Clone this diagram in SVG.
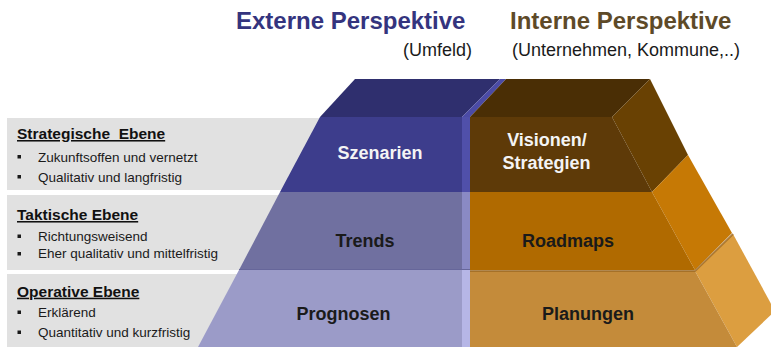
<svg xmlns="http://www.w3.org/2000/svg" width="771" height="347" viewBox="0 0 771 347">
  <style>
    .panel { fill: #e1e1e1; }
    .head { font-family: "Liberation Sans", Arial, sans-serif; font-weight: bold; font-size: 15.5px; fill: #111111; text-decoration: underline; }
    .item { font-family: "Liberation Sans", Arial, sans-serif; font-size: 13.5px; fill: #1a1a1a; }
    .bullet { fill: #1a1a1a; }
    .lbl { font-family: "Liberation Sans", Arial, sans-serif; font-weight: bold; font-size: 18px; text-anchor: middle; }
    .dark { fill: #1a1a1a; }
    .light { fill: #f4f4f4; }
    .title { font-family: "Liberation Sans", Arial, sans-serif; font-weight: bold; font-size: 24px; }
    .sub { font-family: "Liberation Sans", Arial, sans-serif; font-size: 18px; fill: #1a1a1a; }
  </style>
  <rect width="771" height="347" fill="#ffffff"/>

  <!-- headings -->
  <g id="title-extern">
    <text class="title" x="236" y="29" fill="#34347e">Externe Perspektive</text>
    <text class="sub" x="472" y="56" text-anchor="end">(Umfeld)</text>
  </g>
  <g id="title-intern">
    <text class="title" x="510" y="29" fill="#5e4a28">Interne Perspektive</text>
    <text class="sub" x="512" y="56">(Unternehmen, Kommune,..)</text>
  </g>

  <!-- level descriptions on the left -->
  <g id="level-strategic">
    <rect class="panel" x="7" y="118" width="470" height="72"/>
    <text class="head" x="17" y="139" xml:space="preserve">Strategische  Ebene</text>
    <rect class="bullet" x="17.5" y="155" width="3.5" height="3.5"/>
    <text class="item" x="38" y="161.5">Zukunftsoffen und vernetzt</text>
    <rect class="bullet" x="17.5" y="175" width="3.5" height="3.5"/>
    <text class="item" x="38" y="181.5">Qualitativ und langfristig</text>
  </g>
  <g id="level-tactical">
    <rect class="panel" x="7" y="195" width="470" height="75"/>
    <text class="head" x="17" y="220">Taktische Ebene</text>
    <rect class="bullet" x="17.5" y="234.5" width="3.5" height="3.5"/>
    <text class="item" x="38" y="240.7">Richtungsweisend</text>
    <rect class="bullet" x="17.5" y="252" width="3.5" height="3.5"/>
    <text class="item" x="38" y="258.3">Eher qualitativ und mittelfristig</text>
  </g>
  <g id="level-operative">
    <rect class="panel" x="7" y="274" width="470" height="73"/>
    <text class="head" x="17" y="296.7">Operative Ebene</text>
    <rect class="bullet" x="17.5" y="310.5" width="3.5" height="3.5"/>
    <text class="item" x="38" y="316.7">Erklärend</text>
    <rect class="bullet" x="17.5" y="330.5" width="3.5" height="3.5"/>
    <text class="item" x="38" y="336.7">Quantitativ und kurzfristig</text>
  </g>

  <!-- external half of the pyramid -->
  <g id="szenarien">
    <polygon points="320,117 355,79 500,79 462,117" fill="#2f2f6e"/>
    <polygon points="462,117 500,79 506,79 470,117" fill="#4b4ba6"/>
    <polygon points="320,117 462,117 462,192 280,192" fill="#3d3d8c"/>
    <rect x="462" y="117" width="8" height="75" fill="#5050aa"/>
    <text class="lbl light" x="380" y="159.3">Szenarien</text>
  </g>
  <g id="trends">
    <polygon points="280,192 462,192 462,270 239,270" fill="#7070a0"/>
    <rect x="462" y="192" width="8" height="78" fill="#8a8ac4"/>
    <line x1="239" y1="269.5" x2="470" y2="269.5" stroke="#66669a" stroke-width="1"/>
    <text class="lbl dark" x="365" y="246.7">Trends</text>
  </g>
  <g id="prognosen">
    <polygon points="239,270 462,270 462,347 198,347" fill="#9b9bc8"/>
    <rect x="462" y="270" width="8" height="77" fill="#b6b6e6"/>
    <text class="lbl dark" x="343.5" y="320">Prognosen</text>
  </g>

  <!-- internal half of the pyramid -->
  <g id="visionen">
    <polygon points="470,117 506,79 650,79 612,117" fill="#4a2e05"/>
    <polygon points="612,117 650,79 688,155 652,192" fill="#694103"/>
    <polygon points="470,117 612,117 652,192 470,192" fill="#5e3a08"/>
    <text class="lbl light" x="547" y="146">Visionen/</text>
    <text class="lbl light" x="546.5" y="168.5">Strategien</text>
  </g>
  <g id="roadmaps">
    <polygon points="652,192 688,155 732,233 695,270" fill="#c67905"/>
    <polygon points="470,192 652,192 695,270 470,270" fill="#b06a00"/>
    <text class="lbl dark" x="568" y="246.7">Roadmaps</text>
  </g>
  <g id="planungen">
    <polygon points="695,271 733,234 775,311 737,347" fill="#dc9e40"/>
    <polygon points="470,271 695,271 737,347 470,347" fill="#c48b3a"/>
    <polyline points="470,271 695,271 733,234" fill="none" stroke="#9e6a24" stroke-width="2" opacity="0.8"/>
    <text class="lbl dark" x="588" y="320">Planungen</text>
  </g>
</svg>
